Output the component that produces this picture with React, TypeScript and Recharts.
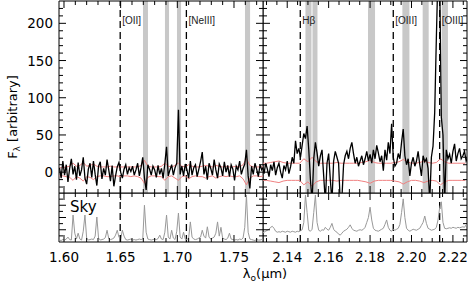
import React from "react";
import { LineChart, Line, XAxis, YAxis, ReferenceLine, ReferenceArea } from "recharts";

// wavelength grids (micron) — spectra are sampled on a regular grid
const leftStart = 1.596;
const leftStep = 0.0015;
const rightStart = 2.128;
const rightStep = 0.0008;

const leftFlux = [
  6, -8, 15, -4, 10, -13, 5, 18, -3, 8,
  -10, 13, -5, 3, 20, -8, -16, 4, 12, -7,
  15, -3, -18, 8, 14, -9, 5, -4, 17, 3,
  -12, 9, -19, -5, 7, 13, 0, -8, 4, 10,
  -3, 6, 1, 8, -4, 3, 12, -5, 6, 20,
  -8, -24, 10, 4, -4, 8, 3, -7, 9, -3,
  5, -8, 12, 34, -5, 3, 10, -4, 6, 12,
  84, -3, 8, -5, 11, 3, -8, 15, -4, 6,
  10, -6, 4, 14, 27, -3, 8, -10, 12, 5,
  -4, 17, 3, -8, 11, 6, -5, 14, 0, 9,
  -6, 10, 4, -11, 8, 3, 15, -3, 5, 11,
  30, -5, -22, 8, -3, 12, 4, -6, 10, 3, 7,
];

const rightFlux = [
  8, -2, 12, 4, -6, 10, 2, 14, -4, 6,
  12, 0, -8, 9, 3, 15, -2, 7, 20, 12,
  42, 25, 32, 20, 36, 52, 45, 62, 30, -10,
  -40, 18, 40, 26, 8, 22, 30, -5, -40, 12,
  25, -10, -40, 15, 28, 20, 12, -40, -35, 10,
  22, 28, 18, 32, 40, 25, 12, 20, 8, 15,
  22, 10, 18, 28, 15, 24, 12, 30, 18, 36,
  26, 14, 22, 2, 30, 16, 40, 25, 65, 20,
  8, 12, 25, 18, 40, 58, 22, 10, 18, -5,
  12, 20, 8, 15, 28, 10, -5, 22, 14, 18,
  5, -40, 20, 35, 80, 180, 270, 260, 74, 50,
  -40, 30, 18, 24, 12, 28, 38, 15, 25, 32,
  18, 22, 28, 15, 20,
];

// 1-sigma noise (red)
const leftErrStep = 0.003;
const leftErrUp = [
  6, 6, 7, 8, 12, 8, 9, 13, 8, 9,
  11, 8, 7, 7, 7, 8, 7, 7, 7, 7,
  7, 7, 7, 7, 9, 16, 8, 7, 7, 7,
  8, 12, 8, 7, 9, 12, 8, 7, 10, 8,
  7, 7, 8, 9, 8, 7, 9, 8, 7, 8,
  7, 7, 8, 7, 10, 18, 9, 7, 7, 7, 7,
];
const leftErrLo = [
  -5, -5, -6, -7, -11, -6, -8, -12, -6, -7,
  -10, -6, -5, -5, -6, -6, -5, -5, -6, -5,
  -5, -6, -5, -6, -8, -15, -7, -5, -5, -6,
  -6, -11, -6, -5, -8, -11, -6, -5, -9, -6,
  -5, -6, -6, -8, -6, -5, -8, -6, -5, -6,
  -5, -6, -6, -5, -9, -17, -8, -5, -5, -6, -5,
];
const rightErrStep = 0.002;
const rightErrUp = [
  12, 12, 13, 14, 15, 13, 12, 12, 12, 12,
  18, 14, 20, 14, 12, 12, 12, 12, 13, 12,
  12, 12, 12, 12, 13, 14, 16, 13, 12, 12,
  12, 12, 13, 14, 17, 14, 12, 12, 13, 15,
  13, 12, 13, 18, 14, 12, 12, 12, 12, 12,
];
const rightErrLo = [
  -11, -11, -12, -13, -14, -12, -11, -11, -11, -11,
  -17, -13, -19, -13, -11, -11, -11, -11, -12, -11,
  -11, -11, -11, -11, -12, -13, -15, -12, -11, -11,
  -11, -11, -12, -13, -16, -13, -11, -11, -12, -14,
  -12, -11, -12, -17, -13, -11, -11, -11, -11, -11,
];

// sky spectrum (grey, bottom panels)
const leftSky = [
  4, 3, 5, 4, 6, 10, 5, 4, 55, 18,
  6, 18, 6, 4, 22, 55, 8, 4, 5, 6,
  5, 12, 51, 8, 4, 5, 6, 9, 24, 7,
  5, 6, 8, 14, 24, 10, 6, 24, 12, 5,
  4, 5, 6, 4, 5, 4, 5, 6, 5, 6,
  75, 20, 6, 5, 4, 5, 6, 5, 7, 14,
  6, 5, 20, 55, 10, 6, 24, 8, 5, 22,
  59, 10, 6, 20, 6, 5, 8, 41, 10, 6,
  5, 6, 8, 10, 24, 12, 8, 31, 10, 6,
  8, 10, 18, 41, 12, 30, 8, 6, 5, 8,
  18, 6, 5, 4, 5, 4, 6, 5, 8, 30,
  96, 20, 6, 5, 4, 3, 5, 4, 4, 5, 4,
];
const rightSky = [
  18, 20, 22, 24, 26, 30, 32, 28, 22, 20,
  21, 20, 22, 21, 20, 22, 21, 20, 22, 21,
  20, 22, 21, 23, 25, 40, 96, 60, 24, 22,
  26, 60, 96, 40, 24, 22, 25, 24, 30, 26,
  24, 30, 38, 26, 22, 20, 16, 14, 18, 22,
  24, 26, 30, 35, 28, 24, 23, 22, 24, 25,
  24, 26, 30, 40, 50, 71, 45, 28, 24, 23,
  22, 24, 26, 28, 36, 45, 30, 24, 22, 26,
  24, 26, 28, 36, 60, 88, 50, 28, 24, 22,
  24, 26, 25, 24, 26, 28, 34, 40, 53, 38,
  28, 26, 24, 25, 26, 30, 45, 70, 82, 40,
  28, 27, 28, 29, 28, 30, 29, 28, 30, 29,
  30, 31, 30, 35, 33,
];

// emission lines and masked sky bands
const leftLines = [
  { x: 1.6496, name: "[OII]" },
  { x: 1.708, name: "[NeIII]" },
];
const rightLines = [
  { x: 2.1463, name: "Hβ" },
  { x: 2.1912, name: "[OIII]" },
  { x: 2.2136, name: "[OIII]" },
];
const leftBands = [
  [1.6697, 1.6741],
  [1.6891, 1.6927],
  [1.6997, 1.7033],
  [1.7597, 1.7642],
];
const rightBands = [
  [2.1488, 2.1517],
  [2.1522, 2.1546],
  [2.179, 2.1824],
  [2.1956, 2.199],
  [2.2054, 2.2083],
  [2.2146, 2.2176],
];

const leftDomain = [1.5956, 1.7756];
const rightDomain = [2.1283, 2.2268];
const fluxDomain = [-28, 230];
const skyDomain = [0, 100];

const leftMajor = [1.6, 1.65, 1.7, 1.75];
const leftMinor = [1.6, 1.61, 1.62, 1.63, 1.64, 1.65, 1.66, 1.67, 1.68, 1.69, 1.7, 1.71, 1.72, 1.73, 1.74, 1.75, 1.76, 1.77];
const rightMajor = [2.14, 2.16, 2.18, 2.2, 2.22];
const rightMinor = [2.13, 2.135, 2.14, 2.145, 2.15, 2.155, 2.16, 2.165, 2.17, 2.175, 2.18, 2.185, 2.19, 2.195, 2.2, 2.205, 2.21, 2.215, 2.22, 2.225];
const fluxMajor = [0, 50, 100, 150, 200];
const fluxMinor = [-20, -10, 0, 10, 20, 30, 40, 50, 60, 70, 80, 90, 100, 110, 120, 130, 140, 150, 160, 170, 180, 190, 200, 210, 220];
const skyMajor = [25, 50, 75];
const skyMinor = [12.5, 25, 37.5, 50, 62.5, 75, 87.5];

const toPoints = (start: number, step: number, vals: number[]) =>
  vals.map((v, i) => ({ x: +(start + i * step).toFixed(4), y: v }));

const isMajor = (majors: number[], v: number) => majors.some((m) => Math.abs(m - v) < 1e-6);

// tick labels only; the tick marks themselves are drawn as reference segments
const xLabel = (majors: number[], show: boolean) => (props: any) => {
  const { x, y, payload } = props;
  if (!show || !isMajor(majors, payload.value)) return <g />;
  return (
    <text x={x} y={y + 20} textAnchor="middle" fontSize={13.5} fill="#000">
      {payload.value.toFixed(2)}
    </text>
  );
};

const yLabel = (majors: number[], show: boolean) => (props: any) => {
  const { x, y, payload } = props;
  if (!show || !isMajor(majors, payload.value)) return <g />;
  return (
    <text x={x - 6} y={y + 5} textAnchor="end" fontSize={13.5} fill="#000">
      {payload.value}
    </text>
  );
};

const lineLabel = (name: string) => (props: any) => {
  const vb = props.viewBox;
  return (
    <text x={vb.x + 2} y={24} fontSize={10} fill="#222" fontFamily="'Liberation Sans', Arial, sans-serif">
      {name}
    </text>
  );
};

const axisCommon = { tickSize: 0, tickMargin: 0, tickLine: false, axisLine: false, interval: 0 as const, allowDataOverflow: true };

function Panel(opts: {
  width: number;
  height: number;
  margin: { top: number; right: number; bottom: number; left: number };
  leftW: number;
  xDomain: number[];
  xMajor: number[];
  xMinor: number[];
  yDomain: number[];
  yMajor: number[];
  yMinor: number[];
  yLabels: boolean;
  xLabels: boolean;
  bottomH: number;
  lines: { x: number; name: string }[];
  bands: number[][];
  showLineLabels: boolean;
  children: React.ReactNode;
}) {
  const [x0, x1] = opts.xDomain;
  const [y0, y1] = opts.yDomain;
  const plotW = opts.width - opts.leftW - opts.margin.left - opts.margin.right;
  const plotH = opts.height - opts.margin.top - opts.margin.bottom - opts.bottomH;
  const ux = (x1 - x0) / plotW; // data units per pixel
  const uy = (y1 - y0) / plotH;

  const segs: { a: { x: number; y: number }; b: { x: number; y: number } }[] = [];
  opts.xMinor.forEach((v) => {
    const L = (isMajor(opts.xMajor, v) ? 7 : 4) * uy;
    segs.push({ a: { x: v, y: y0 }, b: { x: v, y: y0 + L } });
    segs.push({ a: { x: v, y: y1 }, b: { x: v, y: y1 - L } });
  });
  opts.yMinor.forEach((v) => {
    const L = (isMajor(opts.yMajor, v) ? 7 : 4) * ux;
    segs.push({ a: { x: x0, y: v }, b: { x: x0 + L, y: v } });
    segs.push({ a: { x: x1, y: v }, b: { x: x1 - L, y: v } });
  });

  return (
    <LineChart width={opts.width} height={opts.height} margin={opts.margin}>
      <XAxis
        xAxisId="b"
        type="number"
        dataKey="x"
        domain={opts.xDomain}
        ticks={opts.xMinor}
        height={opts.bottomH}
        tick={xLabel(opts.xMajor, opts.xLabels)}
        {...axisCommon}
      />
      <YAxis
        yAxisId="l"
        type="number"
        domain={opts.yDomain}
        ticks={opts.yMinor}
        width={opts.leftW}
        tick={yLabel(opts.yMajor, opts.yLabels)}
        {...axisCommon}
      />
      {opts.bands.map((b, i) => (
        <ReferenceArea
          key={"band" + i}
          xAxisId="b"
          yAxisId="l"
          x1={b[0]}
          x2={b[1]}
          fill="#c8c8c8"
          fillOpacity={1}
          stroke="none"
        />
      ))}
      {opts.lines.map((l, i) => (
        <ReferenceLine
          key={"line" + i}
          xAxisId="b"
          yAxisId="l"
          x={l.x}
          stroke="#000"
          strokeWidth={1.3}
          strokeDasharray="7 4"
          label={opts.showLineLabels ? lineLabel(l.name) : undefined}
        />
      ))}
      {opts.children}
      {segs.map((s, i) => (
        <ReferenceLine
          key={"tick" + i}
          xAxisId="b"
          yAxisId="l"
          segment={[s.a, s.b]}
          stroke="#000"
          strokeWidth={1}
          ifOverflow="visible"
        />
      ))}
      {/* panel frame */}
      <ReferenceArea
        xAxisId="b"
        yAxisId="l"
        x1={x0}
        x2={x1}
        y1={y0}
        y2={y1}
        fill="none"
        stroke="#000"
        strokeWidth={1}
      />
    </LineChart>
  );
}

export default function App() {
  const lf = toPoints(leftStart, leftStep, leftFlux);
  const rf = toPoints(rightStart, rightStep, rightFlux);
  const leu = toPoints(leftStart, leftErrStep, leftErrUp);
  const lel = toPoints(leftStart, leftErrStep, leftErrLo);
  const reu = toPoints(rightStart, rightErrStep, rightErrUp);
  const rel = toPoints(rightStart, rightErrStep, rightErrLo);
  const ls = toPoints(leftStart, leftStep, leftSky);
  const rs = toPoints(rightStart, rightStep, rightSky);

  const series = (data: any[], color: string, w: number, key: string) => (
    <Line
      key={key}
      xAxisId="b"
      yAxisId="l"
      data={data}
      dataKey="y"
      type="linear"
      stroke={color}
      strokeWidth={w}
      dot={false}
      activeDot={false}
      isAnimationActive={false}
    />
  );

  return (
    <div
      style={{
        position: "absolute",
        left: 0,
        top: 0,
        width: 471,
        height: 285,
        background: "#fff",
        fontFamily: "'DejaVu Sans', sans-serif",
      }}
    >
      <div style={{ position: "absolute", left: 0, top: 0 }}>
        <Panel
          width={264} height={194} margin={{ top: 1, right: 1, bottom: 1, left: 0 }} leftW={59}
          xDomain={leftDomain} xMajor={leftMajor} xMinor={leftMinor}
          yDomain={fluxDomain} yMajor={fluxMajor} yMinor={fluxMinor}
          yLabels xLabels={false} bottomH={0} lines={leftLines} bands={leftBands} showLineLabels
        >
          {series(leu, "#f08080", 1, "leu")}
          {series(lel, "#f08080", 1, "lel")}
          {series(lf, "#000", 1.3, "lf")}
        </Panel>
      </div>
      <div style={{ position: "absolute", left: 263, top: 0 }}>
        <Panel
          width={208} height={194} margin={{ top: 1, right: 4, bottom: 1, left: 0 }} leftW={0}
          xDomain={rightDomain} xMajor={rightMajor} xMinor={rightMinor}
          yDomain={fluxDomain} yMajor={fluxMajor} yMinor={fluxMinor}
          yLabels={false} xLabels={false} bottomH={0} lines={rightLines} bands={rightBands} showLineLabels
        >
          {series(reu, "#f08080", 1, "reu")}
          {series(rel, "#f08080", 1, "rel")}
          {series(rf, "#000", 1.3, "rf")}
        </Panel>
      </div>
      <div style={{ position: "absolute", left: 0, top: 193 }}>
        <Panel
          width={264} height={92} margin={{ top: 0, right: 1, bottom: 0, left: 0 }} leftW={59}
          xDomain={leftDomain} xMajor={leftMajor} xMinor={leftMinor}
          yDomain={skyDomain} yMajor={skyMajor} yMinor={skyMinor}
          yLabels={false} xLabels bottomH={43} lines={leftLines} bands={[]} showLineLabels={false}
        >
          {series(ls, "#999", 1, "ls")}
        </Panel>
      </div>
      <div style={{ position: "absolute", left: 263, top: 193 }}>
        <Panel
          width={208} height={92} margin={{ top: 0, right: 4, bottom: 0, left: 0 }} leftW={0}
          xDomain={rightDomain} xMajor={rightMajor} xMinor={rightMinor}
          yDomain={skyDomain} yMajor={skyMajor} yMinor={skyMinor}
          yLabels={false} xLabels bottomH={43} lines={rightLines} bands={[]} showLineLabels={false}
        >
          {series(rs, "#999", 1, "rs")}
        </Panel>
      </div>
      <div style={{ position: "absolute", left: 70, top: 198, fontSize: 15, color: "#000" }}>Sky</div>
      <svg style={{ position: "absolute", left: 0, top: 0 }} width={471} height={285}>
        <text transform="translate(17,117) rotate(-90)" textAnchor="middle" fontSize={13} fill="#000">
          F<tspan fontSize={9} dy={3}>λ</tspan>
          <tspan dy={-3}> [arbitrary]</tspan>
        </text>
        <text x={265} y={278} textAnchor="middle" fontSize={13} fill="#000">
          λ<tspan fontSize={9} dy={3}>o</tspan>
          <tspan dy={-3}>(μm)</tspan>
        </text>
      </svg>
    </div>
  );
}
